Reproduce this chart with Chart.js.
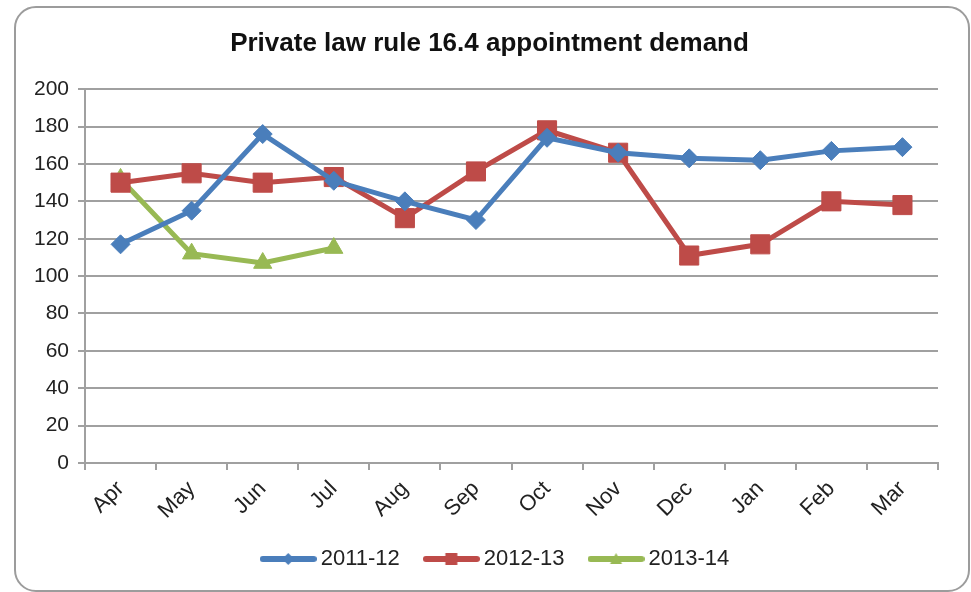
<!DOCTYPE html>
<html>
<head>
<meta charset="utf-8">
<script src="https://cdn.jsdelivr.net/npm/chart.js@4"></script>
<style>
  html, body { margin: 0; padding: 0; background: #fff; }
  #wrap { position: relative; width: 971px; height: 592px; overflow: hidden; }
  #frame {
    position: absolute; left: 14px; top: 6px; width: 952px; height: 582px;
    border: 2px solid #9c9c9c; border-radius: 22px; background: #fff;
  }
  #careerChart { position: absolute; left: 0; top: 0; }
</style>
</head>
<body>
<div id="wrap">
  <div id="frame"></div>
  <canvas id="careerChart" width="971" height="592"></canvas>
</div>
<script>
const months = ["Apr", "May", "Jun", "Jul", "Aug", "Sep", "Oct", "Nov", "Dec", "Jan", "Feb", "Mar"];
const demand2011 = [117, 135, 176, 151, 140, 130, 174, 166, 163, 162, 167, 169];
const demand2012 = [150, 155, 150, 153, 131, 156, 178, 166, 111, 117, 140, 138];
const demand2013 = [152, 112, 107, 115];
const yTicks = [0, 20, 40, 60, 80, 100, 120, 140, 160, 180, 200];

const blue = "#4a7ebb";
const red = "#be4b48";
const green = "#98b954";
const gridGrey = "#a0a0a0";
const fontFamily = "'Liberation Sans', Arial, sans-serif";

// legend swatch: line with the marker in the middle
function legendSwatch(color, shape) {
  const c = document.createElement("canvas");
  c.width = 57;
  c.height = 16;
  const g = c.getContext("2d");
  g.strokeStyle = color;
  g.fillStyle = color;
  g.lineWidth = 6;
  g.lineCap = "round";
  g.beginPath();
  g.moveTo(3, 8);
  g.lineTo(54, 8);
  g.stroke();
  g.beginPath();
  if (shape === "diamond") {
    g.moveTo(28.5, 2); g.lineTo(34.5, 8); g.lineTo(28.5, 14); g.lineTo(22.5, 8);
  } else if (shape === "square") {
    g.rect(22.5, 2, 12, 12);
  } else {
    g.moveTo(28.5, 2); g.lineTo(34.5, 13); g.lineTo(22.5, 13);
  }
  g.closePath();
  g.fill();
  return c;
}

const swatches = [
  legendSwatch(blue, "diamond"),
  legendSwatch(red, "square"),
  legendSwatch(green, "triangle"),
];

// title and legend are centred on the plot area, not on the whole canvas
const centreOnPlot = {
  id: "centreOnPlot",
  afterLayout(chart) {
    chart.titleBlock.left = 41;
    chart.legend.left = 58;
  },
};

const ctx = document.getElementById("careerChart").getContext("2d");
new Chart(ctx, {
  type: "line",
  plugins: [centreOnPlot],
  data: {
    labels: months,
    datasets: [
      {
        label: "2011-12",
        data: demand2011,
        borderColor: blue,
        backgroundColor: blue,
        borderWidth: 5,
        pointStyle: "rectRot",
        pointRadius: 9.5,
        pointBorderWidth: 1,
        tension: 0,
      },
      {
        label: "2012-13",
        data: demand2012,
        borderColor: red,
        backgroundColor: red,
        borderWidth: 5,
        pointStyle: "rect",
        pointRadius: 13.5,
        pointBorderWidth: 1,
        tension: 0,
      },
      {
        label: "2013-14",
        data: demand2013,
        borderColor: green,
        backgroundColor: green,
        borderWidth: 5,
        pointStyle: "triangle",
        pointRadius: 10.5,
        pointBorderWidth: 1,
        tension: 0,
      },
    ],
  },
  options: {
    responsive: false,
    animation: false,
    layout: { padding: { top: 0, right: 33, bottom: 12, left: 0 } },
    plugins: {
      title: {
        display: true,
        text: "Private law rule 16.4 appointment demand",
        color: "#111",
        font: { family: fontFamily, size: 26, weight: "bold" },
        padding: { top: 28, bottom: 30 },
      },
      legend: {
        position: "bottom",
        labels: {
          usePointStyle: true,
          pointStyleWidth: 43,
          padding: 30,
          color: "#222",
          font: { family: fontFamily, size: 22 },
          generateLabels: (chart) =>
            chart.data.datasets.map((ds, i) => ({
              text: ds.label,
              pointStyle: swatches[i],
              fontColor: "#222",
              lineWidth: 0,
              hidden: false,
              datasetIndex: i,
            })),
        },
      },
      tooltip: { enabled: false },
    },
    scales: {
      x: {
        offset: true,
        afterFit: (scale) => { scale.height = 55; },
        grid: {
          offset: true,
          drawOnChartArea: false,
          drawTicks: true,
          tickLength: 7,
          color: gridGrey,
          lineWidth: 2,
        },
        border: { color: gridGrey, width: 2 },
        ticks: {
          color: "#222",
          minRotation: 45,
          maxRotation: 45,
          padding: 6,
          font: { family: fontFamily, size: 22 },
        },
      },
      y: {
        min: 0,
        max: 200,
        afterFit: (scale) => { scale.width = 85; },
        afterBuildTicks: (scale) => { scale.ticks = yTicks.map((v) => ({ value: v })); },
        grid: {
          color: gridGrey,
          lineWidth: 2,
          tickLength: 7,
        },
        border: { color: gridGrey, width: 2 },
        ticks: {
          color: "#222",
          padding: 9,
          font: { family: fontFamily, size: 21 },
        },
      },
    },
  },
});
</script>
</body>
</html>
